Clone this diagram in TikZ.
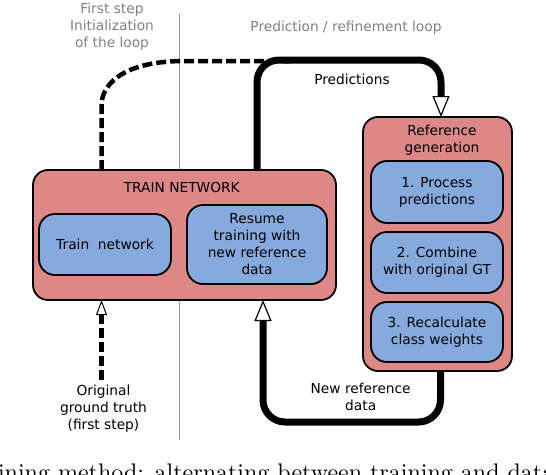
\documentclass[tikz,border=0pt]{standalone}
\usepackage{fontspec}
\setsansfont{DejaVu Sans}
\newfontfamily\capfont{lmroman10-regular}[Extension=.otf]
\usetikzlibrary{arrows.meta}
\definecolor{boxred}{HTML}{DE8787}
\definecolor{boxblue}{HTML}{87AADE}

\begin{document}
\begin{tikzpicture}[x=1pt, y=-1pt, font=\sffamily\fontsize{13.75pt}{17pt}\selectfont,
    every node/.style={align=center, inner sep=0pt, outer sep=0pt},
    groupbox/.style={draw, fill=boxred, line width=1.8pt, rounded corners=15pt},
    taskbox/.style={draw, fill=boxblue, line width=1.8pt, rounded corners=16pt, minimum width=132pt, minimum height=62pt},
    greynote/.style={text=black!50},
    loopline/.style={line width=7pt, rounded corners=22pt},
    initline/.style={line width=4.5pt, dash pattern=on 10pt off 4pt},
    bigtip/.style={-{Triangle[fill=white, width=17pt, length=21pt, line width=1.2pt]}},
    smalltip/.style={-{Triangle[fill=white, width=11pt, length=15pt, line width=1pt]}}]
    \useasboundingbox (0,0) rectangle (546,474);

    % divider between the two phases
    \draw[black!40, line width=1pt] (179.5,13) -- (179.5,440);
    \node[greynote] (firstnote) at (112,26.4) {First step\\Initialization\\of the loop};
    \node[greynote, anchor=base] (loopnote) at (346,31) {Prediction / refinement loop};

    % training block
    \node[groupbox, minimum width=303pt, minimum height=130pt] (trainbox) at (184.5,235) {};
    \node[anchor=base] (traintitle) at (181.7,192.3) {TRAIN NETWORK};
    \node[taskbox, minimum height=61pt] (train) at (105,244.5) {Train\ \ network};
    \node[taskbox, minimum width=140pt, minimum height=79pt] (resume) at (257,244.5) {Resume\\training with\\new reference\\data};

    % reference generation block
    \node[groupbox, minimum width=149pt, minimum height=254pt] (refbox) at (437.5,244) {};
    \node (reftitle) at (442,140) {Reference\\generation};
    \node[taskbox] (process) at (437,192) {1. Process\\predictions};
    \node[taskbox, minimum height=61pt] (combine) at (437,262.5) {2. Combine\\with original GT};
    \node[taskbox, minimum height=60pt] (recalc) at (437,332) {3. Recalculate\\class weights};

    % labels
    \node[anchor=base] (predlabel) at (352,84) {Predictions};
    \node (newreflabel) at (360.7,397.3) {New reference\\data};
    \node (gt) at (103.5,408.4) {Original\\ground truth\\(first step)};
    \node[anchor=base west, font=\capfont\fontsize{24pt}{28pt}\selectfont] (caption) at (-32.7,480) {training method: alternating between training and data generation};

    % connectors
    \coordinate (initjoin) at (290,61);
    \coordinate (predturn) at (441,60);
    \coordinate (newturn) at (263,422);
    \draw[initline] ([xshift=-2pt]gt.north |- trainbox.north) -- (101.5,105) .. controls (101.5,88) and (118,61) .. (185,61) -- (initjoin);
    \draw[initline, smalltip] ([xshift=-2pt, yshift=5pt]gt.north) -- ([xshift=-2pt]gt.north |- trainbox.south);
    \draw[loopline, bigtip] (resume |- trainbox.north) |- (predturn) -- (predturn |- refbox.north);
    \draw[loopline, bigtip] ([xshift=3pt]refbox.south) |- (newturn) -- (newturn |- trainbox.south);
\end{tikzpicture}
\end{document}
